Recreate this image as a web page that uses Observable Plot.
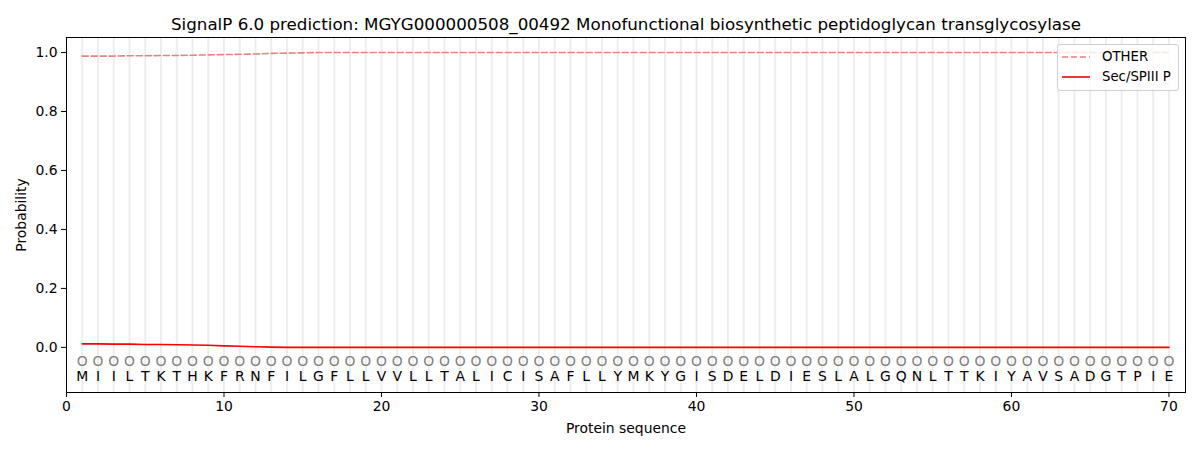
<!DOCTYPE html>
<html><head><meta charset="utf-8">
<script src="https://cdn.jsdelivr.net/npm/d3@7"></script>
<script src="https://cdn.jsdelivr.net/npm/@observablehq/plot@0.6"></script>
<style>
body{margin:0;background:#fff;font-family:"DejaVu Sans",sans-serif;}
#wrap{position:relative;width:1200px;height:450px;}
#legend{position:absolute;left:1057px;top:44px;width:120px;height:45px;border:1px solid #d0d0d0;border-radius:3px;background:rgba(255,255,255,0.8);font-size:13.3px;color:#000;white-space:nowrap;}
.sw{position:absolute;left:4px;}
.lt{position:absolute;left:44px;line-height:16px;}
</style></head><body>
<div id="wrap"></div>
<script>
const title = "SignalP 6.0 prediction: MGYG000000508_00492 Monofunctional biosynthetic peptidoglycan transglycosylase";
const sequence = "MIILTKTHKFRNFILGFLLVVLLTALICISAFLLYMKYGISDELDIESLALGQNLTTKIYAVSADGTPIE".split("");
const labels = Array(70).fill("O");
const otherProb = [0.988,0.988,0.988,0.989,0.989,0.990,0.990,0.991,0.992,0.993,0.994,0.995,0.997,0.998,0.999,
  1,1,1,1,1,1,1,1,1,1,1,1,1,1,1,1,1,1,1,1,1,1,1,1,1,1,1,1,1,1,1,1,1,1,1,1,1,1,1,1,1,1,1,1,1,1,1,1,1,1,1,1,1,1,1];
const secProb = [0.012,0.012,0.011,0.011,0.010,0.010,0.009,0.008,0.007,0.005,0.004,0.002,0.001,0.0,0.0,
  0,0,0,0,0,0,0,0,0,0,0,0,0,0,0,0,0,0,0,0,0,0,0,0,0,0,0,0,0,0,0,0,0,0,0,0,0,0,0,0,0,0,0,0,0,0,0,0,0,0,0,0,0,0,0];
const xTicks = [0,10,20,30,40,50,60,70];
const yTicks = [0,0.2,0.4,0.6,0.8,1.0];

const pos = sequence.map((_, i) => i + 1);
const other = pos.map((p, i) => ({pos: p, v: otherProb[i]}));
const sec = pos.map((p, i) => ({pos: p, v: secProb[i]}));

const chart = Plot.plot({
  width: 1200, height: 450,
  marginLeft: 66, marginRight: 15, marginTop: 37, marginBottom: 58,
  style: {fontFamily: "DejaVu Sans, sans-serif", fontSize: "13.9px", color: "#000", background: "#fff"},
  x: {domain: [0, 71.05], ticks: xTicks, tickFormat: d => d, label: "Protein sequence", labelArrow: "none", labelAnchor: "center", labelOffset: 40, tickSize: 5},
  y: {domain: [-0.153, 1.051], ticks: yTicks, tickFormat: d => d.toFixed(1), label: "Probability", labelArrow: "none", labelAnchor: "center", labelOffset: 50, tickSize: 5},
  marks: [
    Plot.ruleX(pos, {x: d => d, stroke: "#000", strokeOpacity: 0.07, strokeWidth: 2}),
    Plot.line(other, {x: "pos", y: "v", stroke: "#f08080", strokeWidth: 1.6, strokeDasharray: "6,3"}),
    Plot.line(sec, {x: "pos", y: "v", stroke: "#ff0000", strokeWidth: 1.6}),
    Plot.text(pos, {x: d => d, y: -0.047, text: (d, i) => labels[i], fill: "#808080", fontSize: 13.9}),
    Plot.text(pos, {x: d => d, y: -0.1, text: (d, i) => sequence[i], fill: "#000", fontSize: 13.9}),
    Plot.frame({stroke: "#000"}),
    Plot.text([title], {frameAnchor: "top", dy: -19, text: d => d, fontSize: 16.7, fill: "#000"})
  ]
});
document.getElementById("wrap").appendChild(chart);

const leg = document.createElement("div");
leg.id = "legend";
leg.innerHTML = `<svg class="sw" style="top:9px" width="28" height="6"><line x1="0" y1="3" x2="28" y2="3" stroke="#f08080" stroke-width="1.6" stroke-dasharray="6,3"/></svg><div class="lt" style="top:4px">OTHER</div>
<svg class="sw" style="top:29px" width="28" height="6"><line x1="0" y1="3" x2="28" y2="3" stroke="#ff0000" stroke-width="1.6"/></svg><div class="lt" style="top:24px">Sec/SPIII P</div>`;
document.getElementById("wrap").appendChild(leg);
</script>
</body></html>
